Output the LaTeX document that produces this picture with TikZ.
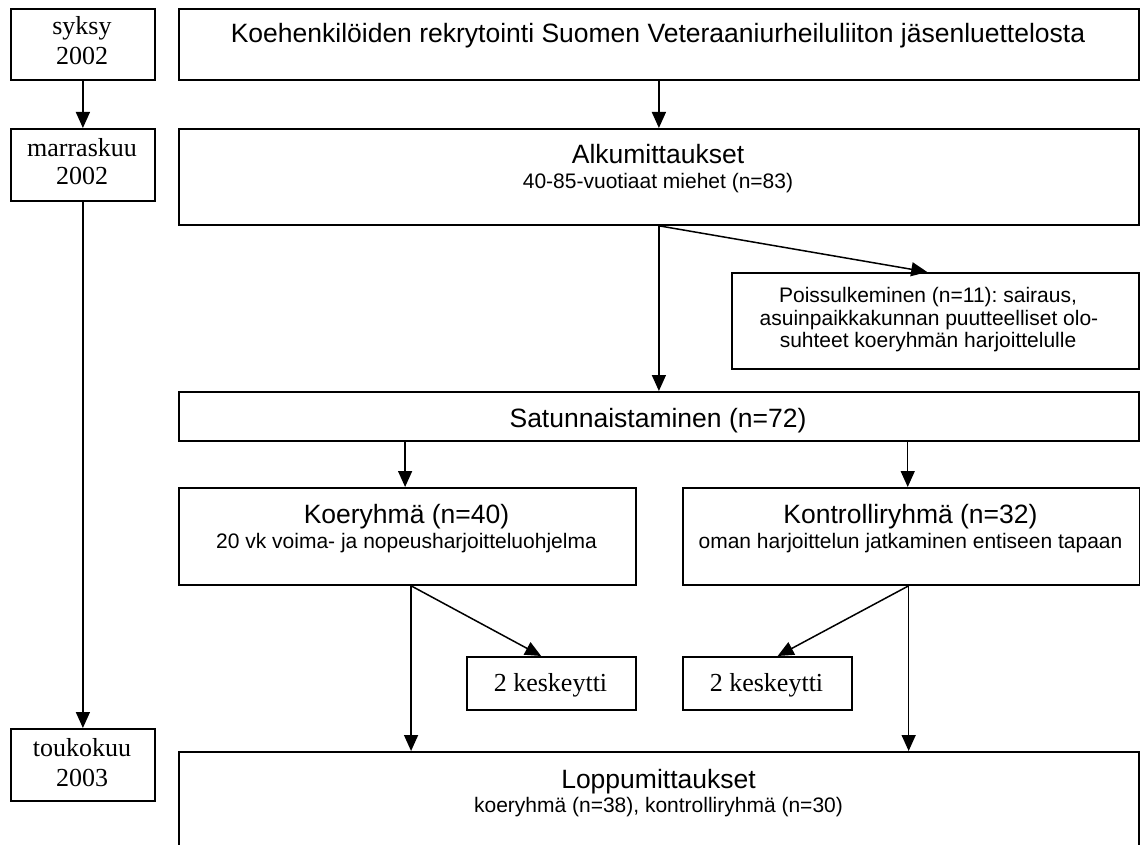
\documentclass[tikz,border=0pt]{standalone}
\usepackage{fontspec}
\setmainfont{Liberation Serif}
\newfontfamily\arialf{Liberation Sans}
\usetikzlibrary{arrows.meta,calc}
\frenchspacing
\begin{document}
\begin{tikzpicture}[x=1pt,y=-1pt,
 box/.style={draw,line width=1.8pt,inner sep=0pt,anchor=north west},
 arr/.style={line width=1.5pt,-{Triangle[length=16pt,width=14pt]}},
 hd/.style={anchor=base,inner sep=0pt,font=\arialf\fontsize{26.5}{30}\selectfont},
 sb/.style={anchor=base,inner sep=0pt,font=\arialf\fontsize{21}{24}\selectfont},
 ps/.style={anchor=base,inner sep=0pt,font=\arialf\fontsize{21}{23}\selectfont},
 tm/.style={anchor=base,inner sep=0pt,font=\fontsize{26}{30}\selectfont}]
\path[clip] (0,0) rectangle (1140,845);
\fill[white] (0,0) rectangle (1140,845);
% boxes
\node[box,minimum width=144pt,minimum height=71pt] (syk) at (10,8) {};
\node[box,minimum width=144pt,minimum height=72pt] (mar) at (10,128) {};
\node[box,minimum width=144pt,minimum height=72pt] (tou) at (10,728) {};
\node[box,minimum width=960pt,minimum height=71pt] (top) at (178,8) {};
\node[box,minimum width=960pt,minimum height=96pt] (alku) at (178,128) {};
\node[box,minimum width=407pt,minimum height=96pt] (pois) at (731,272) {};
\node[box,minimum width=960pt,minimum height=49pt] (satu) at (178,391) {};
\node[box,minimum width=457pt,minimum height=97pt] (koe) at (178,487) {};
\node[box,minimum width=457pt,minimum height=97pt] (kon) at (682,487) {};
\node[box,minimum width=169pt,minimum height=53pt] (kL) at (466,656) {};
\node[box,minimum width=169pt,minimum height=53pt] (kR) at (682,656) {};
\node[box,minimum width=960pt,minimum height=130pt] (lop) at (178,751) {};
% texts
\node[tm] (t1) at (82,35) {syksy};
\node[tm] (t2) at (82,65) {2002};
\node[tm] (t3) at (82,157) {marraskuu};
\node[tm] (t4) at (82,185) {2002};
\node[tm] (t5) at (82,756) {toukokuu};
\node[tm] (t6) at (82,786) {2003};
\node[hd] (t7) at (658,43) {Koehenkilöiden rekrytointi Suomen Veteraaniurheiluliiton jäsenluettelosta};
\node[hd] (t8) at (658,164) {Alkumittaukset};
\node[sb] (t9) at (658,189) {40-85-vuotiaat miehet (n=83)};
\node[ps] (t10) at (928,302) {Poissulkeminen (n=11): sairaus,};
\node[ps] (t11) at (929,325) {asuinpaikkakunnan puutteelliset olo-};
\node[ps] (t12) at (928,347) {suhteet koeryhmän harjoittelulle};
\node[hd] (t13) at (658,427) {Satunnaistaminen (n=72)};
\node[hd] (t14) at (406.5,523) {Koeryhmä (n=40)};
\node[sb] (t15) at (406.5,548) {20 vk voima- ja nopeusharjoitteluohjelma};
\node[hd] (t16) at (910.5,523) {Kontrolliryhmä (n=32)};
\node[sb] (t17) at (910.5,548) {oman harjoittelun jatkaminen entiseen tapaan};
\node[tm] (t18) at (550.5,691) {2 keskeytti};
\node[tm] (t19) at (766.5,691) {2 keskeytti};
\node[hd] (t20) at (658.5,788) {Loppumittaukset};
\node[sb] (t21) at (658.5,812) {koeryhmä (n=38), kontrolliryhmä (n=30)};
% connectors
\draw[arr] (syk.south) -- (mar.north);
\draw[arr] (mar.south) -- (tou.north);
\draw[arr] (top.south) -- (alku.north);
\draw[arr] (alku.south) -- (satu.north);
\draw[arr] (alku.south) -- ($(pois.north west)!0.48!(pois.north east)$);
\coordinate (ka) at ($(koe.north west)!0.495!(koe.north east)$);
\draw[arr] (ka |- satu.south) -- (ka);
\coordinate (ca) at ($(kon.north west)!0.492!(kon.north east)$);
\draw[arr] (ca |- satu.south) -- (ca);
\draw[arr] ($(koe.south west)!0.508!(koe.south east)$) coordinate (kb) -- (kb |- lop.north);
\draw[arr] (kb) -- ($(kL.north west)!0.44!(kL.north east)$);
\draw[arr] ($(kon.south west)!0.494!(kon.south east)$) coordinate (cb) -- (cb |- lop.north);
\draw[arr] (cb) -- ($(kR.north west)!0.56!(kR.north east)$);
\end{tikzpicture}
\end{document}
